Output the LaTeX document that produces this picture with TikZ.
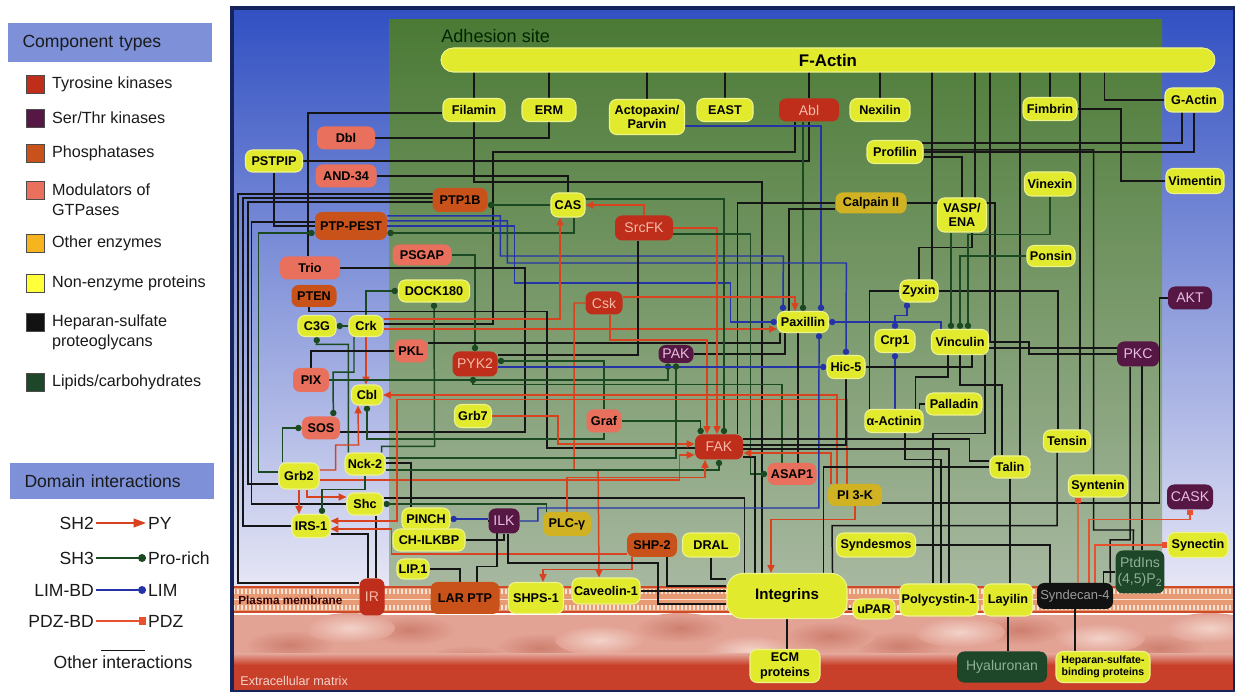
\documentclass[tikz,border=0pt]{standalone}
\usepackage{fontspec}
\setmainfont{Liberation Sans}
\usepackage{tikz}
\usetikzlibrary{arrows.meta, calc, positioning}

\definecolor{NonEnz}   {HTML}{E1EA2C}
\definecolor{NonEnzL}  {HTML}{FFFF3A}
\definecolor{TyrK}     {HTML}{BE2E1A}
\definecolor{TyrKtxt}  {HTML}{F6B9A8}
\definecolor{SerThr}   {HTML}{561744}
\definecolor{SerThrtxt}{HTML}{E6BEDF}
\definecolor{Phos}     {HTML}{C9521A}
\definecolor{GTPmod}   {HTML}{E8705C}
\definecolor{OthEnz}   {HTML}{D1B223}
\definecolor{OthEnzL}  {HTML}{F6B41E}
\definecolor{HSPG}     {HTML}{121212}
\definecolor{HSPGtxt}  {HTML}{9C9C9C}
\definecolor{Lipid}    {HTML}{1E4729}
\definecolor{Lipidtxt} {HTML}{8FAF95}
\definecolor{Wire}     {HTML}{151515}
\definecolor{SHtwo}    {HTML}{D8421E}
\definecolor{SHthree}  {HTML}{1B4A22}
\definecolor{LIMblue}  {HTML}{2434A6}
\definecolor{PDZred}   {HTML}{E8512E}
\definecolor{Navy}     {HTML}{17245C}
\definecolor{CellTop}  {HTML}{3150C2}
\definecolor{CellMid}  {HTML}{6A80D4}
\definecolor{CellLow}  {HTML}{E6E6F5}
\definecolor{AdhTop}   {HTML}{4B7A35}
\definecolor{AdhMid}   {HTML}{6F925C}
\definecolor{AdhLow}   {HTML}{A7B8A0}
\definecolor{Memb}     {HTML}{E89A74}
\definecolor{MembHead} {HTML}{F8E4D6}
\definecolor{MembEdge} {HTML}{CF4A26}
\definecolor{ECMbase}  {HTML}{E2A294}
\definecolor{ECMblob}  {HTML}{CD7F6E}
\definecolor{ECMlight} {HTML}{F3D2C9}
\definecolor{ECMred}   {HTML}{C8402A}
\definecolor{LegHead}  {HTML}{7D90D8}
\definecolor{LegText}  {HTML}{1A1A1A}

\pgfdeclarelayer{bgl}
\pgfdeclarelayer{wires}
\pgfsetlayers{bgl,wires,main}

\tikzset{
  prot/.style={rounded corners=4pt, inner sep=1pt, align=center, text=black,
               font=\bfseries\fontsize{7.2}{8.4}\selectfont},
  sz/.style 2 args={minimum width=#1*0.02cm, minimum height=#2*0.02cm},
  ne/.style={prot, fill=NonEnz, draw=NonEnz!55!white, line width=0.6pt},
  tk/.style={prot, fill=TyrK, text=TyrKtxt, font=\fontsize{8}{9}\selectfont},
  stk/.style={prot, fill=SerThr, text=SerThrtxt, font=\fontsize{8}{9}\selectfont},
  phos/.style={prot, fill=Phos},
  gtp/.style={prot, fill=GTPmod},
  oenz/.style={prot, fill=OthEnz},
  hspg/.style={prot, fill=HSPG, text=HSPGtxt, font=\fontsize{7.4}{8.4}\selectfont},
  lipid/.style={prot, fill=Lipid, text=Lipidtxt, font=\fontsize{8}{9.5}\selectfont},
  link/.style={draw=Wire, line width=0.85pt},
  sh2/.style={draw=SHtwo, line width=0.85pt, -{Triangle[length=4.5pt,width=4pt]}},
  sh3/.style={draw=SHthree, line width=0.85pt, -{Circle[length=3.6pt]}},
  lim/.style={draw=LIMblue, line width=0.85pt, -{Circle[length=3.6pt]}},
  pdz/.style={draw=PDZred, line width=0.65pt, -{Square[length=3.2pt]}},
  leghead/.style={fill=LegHead, minimum width=4.1cm, minimum height=0.78cm,
                  text width=3.5cm, align=left, inner xsep=0.3cm,
                  font=\fontsize{10}{12}\selectfont, text=LegText},
  legsq/.style={draw=black!70, line width=0.5pt, minimum size=0.36cm, inner sep=0pt},
  legtxt/.style={inner sep=1pt, align=left, text=LegText,
                 font=\fontsize{9.2}{11.5}\selectfont},
  domtxt/.style={inner sep=1pt, text=LegText, font=\fontsize{10}{12}\selectfont},
}

\begin{document}
\begin{tikzpicture}[x=0.02cm, y=-0.02cm]
  \useasboundingbox (0,0) rectangle (1235,692);

  % Legend: component types
  \node[leghead] (hdComp) at (110,43) {Component types};
  \node[legsq, fill=TyrK]    (sqTK) at (35,84)  {};
  \node[legtxt, anchor=west] (lbTK) at (50,84)  {Tyrosine kinases};
  \node[legsq, fill=SerThr]  (sqST) at (35,118) {};
  \node[legtxt, anchor=west] (lbST) at (50,118) {Ser/Thr kinases};
  \node[legsq, fill=Phos]    (sqPh) at (35,153) {};
  \node[legtxt, anchor=west] (lbPh) at (50,153) {Phosphatases};
  \node[legsq, fill=GTPmod]  (sqGT) at (35,190) {};
  \node[legtxt, anchor=west] (lbGT) at (50,200) {Modulators of\\GTPases};
  \node[legsq, fill=OthEnzL] (sqOE) at (35,243) {};
  \node[legtxt, anchor=west] (lbOE) at (50,243) {Other enzymes};
  \node[legsq, fill=NonEnzL] (sqNE) at (35,283) {};
  \node[legtxt, anchor=west] (lbNE) at (50,283) {Non-enzyme proteins};
  \node[legsq, fill=HSPG]    (sqHS) at (35,322) {};
  \node[legtxt, anchor=west] (lbHS) at (50,332) {Heparan-sulfate\\proteoglycans};
  \node[legsq, fill=Lipid]   (sqLi) at (35,382) {};
  \node[legtxt, anchor=west] (lbLi) at (50,382) {Lipids/carbohydrates};

  % Legend: domain interactions
  \node[leghead, minimum height=0.74cm] (hdDom) at (112,481) {Domain interactions};
  \node[domtxt, anchor=east] (lSH2)   at (96,523)  {SH2};
  \node[domtxt, anchor=west] (lPY)    at (146,523) {PY};
  \node[domtxt, anchor=east] (lSH3)   at (96,558)  {SH3};
  \node[domtxt, anchor=west] (lPro)   at (146,558) {Pro-rich};
  \node[domtxt, anchor=east] (lLIMBD) at (96,590)  {LIM-BD};
  \node[domtxt, anchor=west] (lLIM)   at (146,590) {LIM};
  \node[domtxt, anchor=east] (lPDZBD) at (96,621)  {PDZ-BD};
  \node[domtxt, anchor=west] (lPDZ)   at (146,621) {PDZ};
  \node[domtxt] (lOther) at (123,662) {Other interactions};
  \draw[sh2, -{Triangle[length=7pt,width=5pt]}] (lSH2) -- (lPY);
  \draw[sh3, -{Circle[length=4.5pt]}] (lSH3) -- (lPro);
  \draw[lim, -{Circle[length=4.5pt]}] (lLIMBD) -- (lLIM);
  \draw[pdz, -{Square[length=4pt]}] (lPDZBD) -- (lPDZ);
  \draw[link] ($(lOther.north)+(-22,-3)$) -- ($(lOther.north)+(22,-3)$);

  % Region labels
  \node[anchor=west, inner sep=0pt, text=black!85!green, font=\fontsize{10.3}{12}\selectfont]
    (lbAdh) at (441,36) {Adhesion site};
  \node[anchor=west, inner sep=0pt, text=black!80!red, font=\bfseries\fontsize{6.7}{8}\selectfont]
    (lbMem) at (238,600) {Plasma membrane};
  \node[anchor=west, inner sep=0pt, text=ECMlight, font=\fontsize{7.2}{8}\selectfont]
    (lbECM) at (240,681) {Extracellular matrix};

  % Proteins: actin and top row
  \node[ne, sz={774}{24}, rounded corners=7pt, font=\bfseries\fontsize{9.6}{11}\selectfont]
    (FActin) at (828,60) {F-Actin};
  \node[ne, sz={62}{23}] (Filamin)   at (474,110)  {Filamin};
  \node[ne, sz={54}{23}] (ERM)       at (549,110)  {ERM};
  \node[ne, sz={75}{35}] (Actopaxin) at (647,117)  {Actopaxin/\\Parvin};
  \node[ne, sz={56}{23}] (EAST)      at (725,110)  {EAST};
  \node[tk, sz={60}{23}] (Abl)       at (809,110)  {Abl};
  \node[ne, sz={60}{23}] (Nexilin)   at (880,110)  {Nexilin};
  \node[ne, sz={54}{23}] (Fimbrin)   at (1050,109) {Fimbrin};
  \node[ne, sz={58}{24}] (GActin)    at (1194,100) {G-Actin};
  \node[ne, sz={58}{25}] (Vimentin)  at (1195,181) {Vimentin};
  \node[ne, sz={56}{23}] (Profilin)  at (895,152)  {Profilin};
  \node[ne, sz={51}{24}] (Vinexin)   at (1050,184) {Vinexin};
  \node[ne, sz={49}{34}] (VASP)      at (962,215)  {VASP/\\ENA};
  \node[oenz, sz={71}{21}] (Calpain) at (871,203)  {Calpain II};
  \node[ne, sz={48}{21}] (Ponsin)    at (1051,256) {Ponsin};
  % Proteins: left block
  \node[gtp, sz={58}{23}]  (Dbl)     at (346,138) {Dbl};
  \node[ne, sz={57}{22}]   (PSTPIP)  at (274,161) {PSTPIP};
  \node[gtp, sz={61}{23}]  (AND34)   at (346,176) {AND-34};
  \node[phos, sz={55}{24}] (PTP1B)   at (460,200) {PTP1B};
  \node[ne, sz={34}{24}]   (CAS)     at (568,205) {CAS};
  \node[tk, sz={58}{25}]   (SrcFK)   at (644,228) {SrcFK};
  \node[phos, sz={72}{28}] (PTPPEST) at (351,226) {PTP-PEST};
  \node[gtp, sz={59}{21}]  (PSGAP)   at (422,255) {PSGAP};
  \node[gtp, sz={60}{23}]  (Trio)    at (310,268) {Trio};
  \node[ne, sz={71}{22}]   (DOCK)    at (434,291) {DOCK180};
  \node[phos, sz={45}{22}] (PTEN)    at (314,296) {PTEN};
  \node[ne, sz={38}{21}]   (C3G)     at (317,326) {C3G};
  \node[ne, sz={34}{21}]   (Crk)     at (366,326) {Crk};
  \node[tk, sz={37}{23}]   (Csk)     at (604,303) {Csk};
  \node[gtp, sz={33}{23}]  (PKL)     at (411,351) {PKL};
  \node[gtp, sz={36}{24}]  (PIX)     at (311,380) {PIX};
  \node[tk, sz={45}{25}]   (PYK2)    at (475,364) {PYK2};
  \node[stk, sz={35}{18}]  (PAK)     at (676,354) {PAK};
  \node[ne, sz={31}{20}]   (Cbl)     at (367,395) {Cbl};
  \node[gtp, sz={35}{23}]  (Graf)    at (604,421) {Graf};
  \node[ne, sz={37}{23}]   (Grb7)    at (473,416) {Grb7};
  \node[gtp, sz={38}{23}]  (SOS)     at (321,428) {SOS};
  \node[tk, sz={48}{25}]   (FAK)     at (719,447) {FAK};
  \node[ne, sz={40}{26}]   (Grb2)    at (299,476) {Grb2};
  \node[ne, sz={40}{22}]   (Nck2)    at (365,464) {Nck-2};
  \node[ne, sz={36}{22}]   (Shc)     at (365,504) {Shc};
  \node[ne, sz={38}{23}]   (IRS1)    at (311,526) {IRS-1};
  \node[ne, sz={48}{22}]   (PINCH)   at (426,519) {PINCH};
  \node[stk, sz={31}{25}]  (ILK)     at (504,521) {ILK};
  \node[oenz, sz={48}{24}] (PLCg)    at (567,524) {PLC-γ};
  \node[ne, sz={72}{22}]   (CHILKBP) at (429,540) {CH-ILKBP};
  \node[ne, sz={32}{20}]   (LIP1)    at (413,569) {LIP.1};
  \node[phos, sz={50}{24}] (SHP2)    at (652,545) {SHP-2};
  \node[ne, sz={57}{24}]   (DRAL)    at (711,545) {DRAL};
  % Proteins: right block
  \node[ne, sz={38}{22}]   (Zyxin)    at (919,291)  {Zyxin};
  \node[ne, sz={51}{21}]   (Paxillin) at (803,322)  {Paxillin};
  \node[stk, sz={44}{23}]  (AKT)      at (1190,298) {AKT};
  \node[ne, sz={40}{23}]   (Crp1)     at (895,341)  {Crp1};
  \node[ne, sz={57}{25}]   (Vinculin) at (960,342)  {Vinculin};
  \node[ne, sz={38}{23}]   (HicV)     at (846,367)  {Hic-5};
  \node[stk, sz={42}{25}]  (PKC)      at (1138,354) {PKC};
  \node[ne, sz={56}{22}]   (Palladin) at (954,404)  {Palladin};
  \node[ne, sz={58}{23}]   (Actinin)  at (894,421)  {α-Actinin};
  \node[ne, sz={47}{22}]   (Tensin)   at (1067,441) {Tensin};
  \node[ne, sz={40}{22}]   (Talin)    at (1010,467) {Talin};
  \node[gtp, sz={49}{22}]  (ASAP1)    at (792,474)  {ASAP1};
  \node[ne, sz={59}{22}]   (Syntenin) at (1098,486) {Syntenin};
  \node[stk, sz={46}{25}]  (CASK)     at (1190,497) {CASK};
  \node[oenz, sz={54}{22}] (PI3K)     at (855,495)  {PI 3-K};
  \node[ne, sz={79}{24}]   (Syndesmos) at (876,545) {Syndesmos};
  \node[ne, sz={60}{25}]   (Synectin) at (1198,545) {Synectin};
  % Membrane and matrix
  \node[tk, sz={25}{37}]   (IR)       at (372,597) {IR};
  \node[phos, sz={69}{32}] (LARPTP)   at (465,598) {LAR PTP};
  \node[ne, sz={55}{31}]   (SHPS1)    at (536,598) {SHPS-1};
  \node[ne, sz={68}{26}]   (Caveolin) at (606,591) {Caveolin-1};
  \node[ne, sz={120}{45}, rounded corners=9pt, font=\bfseries\fontsize{8.6}{10}\selectfont]
    (Integrins) at (787,596) {Integrins};
  \node[ne, sz={42}{20}]   (uPAR)       at (874,609)  {uPAR};
  \node[ne, sz={78}{32}]   (Polycystin) at (939,600)  {Polycystin-1};
  \node[ne, sz={49}{32}]   (Layilin)    at (1008,600) {Layilin};
  \node[hspg, sz={76}{26}] (Syndecan)   at (1075,596) {Syndecan-4};
  \node[lipid, sz={45}{43}] (PtdIns)    at (1140,572) {PtdIns\\(4,5)P\textsubscript{2}};
  \node[ne, sz={70}{33}]   (ECM)        at (785,666)  {ECM\\proteins};
  \node[lipid, sz={90}{31}, font=\fontsize{8}{9}\selectfont] (Hyaluronan) at (1002,667) {Hyaluronan};
  \node[ne, sz={94}{31}, font=\bfseries\fontsize{6}{7}\selectfont]
    (HSBP) at (1103,667) {Heparan-sulfate-\\binding proteins};

  \begin{pgfonlayer}{wires}
    % actin links
    \foreach \n in {Filamin,ERM,Actopaxin,EAST,Abl,Nexilin,Fimbrin}
      \draw[link] (\n) -- (\n |- FActin);
    \draw[link] ($(VASP)+(13,0)$) |- (FActin);
    \draw[link] ($(Zyxin.north)+(13,0)$) |- (FActin);
    \draw[link] (Vinculin) -- ++(30,0) |- (FActin);
    \draw[link] (Talin) -- ++(10,0) |- (FActin);
    \draw[link] (Tensin) -- ++(13,0) |- (FActin);
    \draw[link] (GActin.west) -- ++(-60,0) |- (FActin);
    \draw[link] ($(Profilin)+(0,-9)$) -| ($(GActin)+(-12,0)$);
    \draw[link] (Profilin) -| (GActin);
    \draw[link] (Fimbrin) -- ++(71,0) |- (Vimentin);
    \draw[link] ($(Profilin.east)+(0,5)$) -| (VASP);
    \draw[link] ($(Profilin.east)+(0,-2)$) -- ++(170,0) |- ++(40,380) -- ($(PtdIns.north)+(-7,0)$);
    % top left
    \draw[link] ($(Filamin.west)+(0,3)$) -| ($(Trio.north)+(-2,0)$);
    \draw[link] (Filamin.south) -- ++(0,60) -| ($(Integrins.north)+(-25,0)$);
    \draw[link] (ERM) |- (Dbl);
    \draw[link] (PSTPIP) -| (Abl);
    \draw[link] (PSTPIP) |- (PTPPEST);
    \draw[link] (AND34) -| (CAS);
    \draw[link] ($(Abl.south)+(-14,0)$) |- ++(-302,30) |- ($(Crk.east)+(0,-2)$);
    \draw[sh3] ($(Abl.south)+(-6,0)$) -- (Paxillin.north);
    \draw[lim] ($(Actopaxin.east)+(0,9)$) -| ($(Paxillin.north east)+(-8,0)$);
    % Calpain
    \draw[link] (Calpain) -| ($(Talin.north)+(-15,0)$);
    \draw[link] (Calpain.west) -| ($(FAK.north east)+(-6,0)$);
    \draw[link] ($(Calpain.west)+(0,6)$) -| ($(Paxillin.north)+(-14,0)$);
    % PTP1B and the left bundle
    \draw[sh3] (CAS.west) -- (CAS.west -| PTP1B.east);
    \draw[link] ($(PTP1B)+(0,-6)$) -- ++(-222,0) |- ($(IR.west)+(0,-14)$);
    \draw[link] ($(PTP1B)+(0,-2)$) -- ++(-217,0) |- (IRS1);
    \draw[link] ($(PTP1B)+(0,2)$) -- ++(-212,0) |- ($(Grb2.west)+(0,8)$);
    \draw[link] ($(PTPPEST.west)+(0,-4)$) -- ++(-63,0) |- (Shc);
    \draw[sh3] ($(Grb2.west)+(0,-4)$) -- ++(-20,0) |- ($(PTPPEST.west)+(0,7)$);
    \draw[sh3] ($(CAS.south)+(6,0)$) |- ($(PTPPEST.east)+(0,7)$);
    \draw[lim] ($(PTPPEST.east)+(0,-10)$) -- ++(113,0) |- ++(283,40) -- ($(Paxillin.north west)+(6,0)$);
    \draw[lim] ($(PTPPEST.east)+(0,-5)$) -- ++(120,0) |- ++(339,42) -- (HicV.north);
    \draw[lim] (PTPPEST.east) -- ++(127,0) -- ++(0,57) -- ++(216,0) |- (Paxillin.west);
    % GTPase modulators, Crk and friends
    \draw[sh3] (PSGAP.east) -| (PYK2.north);
    \draw[link] (Trio) -- ++(215,0) |- ($(SOS.east)+(0,4)$);
    \draw[sh3] (Crk.north) |- (DOCK.west);
    \draw[sh3] ($(Nck2.north east)+(-4,0)$) |- ++(53,-6) -- (DOCK.south);
    \draw[sh3] (Crk.west) -- (C3G.east);
    \draw[sh3] ($(Nck2.north west)+(4,0)$) |- ++(-32,-108) -- (C3G.south);
    \draw[sh2] ($(Crk.east)+(0,-7)$) -| ($(CAS.south)+(-8,0)$);
    \draw[sh2] ($(Crk.east)+(0,3)$) -- ($(Paxillin.west)+(0,7)$);
    \draw[sh2] (Crk.south) -- (Crk.south |- Cbl.north);
    \draw[sh3] ($(Crk.south)+(-12,0)$) |- ++(-21,35) -- ($(SOS.north east)+(-7,0)$);
    \draw[link] ($(PTEN.south)+(-5,0)$) |- ++(238,4) |- ($(FAK.west)+(0,1)$);
    \draw[link] (PKL.west) -| (PIX.north);
    \draw[link] ($(PKL.east)+(0,-8)$) -| ($(Paxillin.south west)+(3,0)$);
    \draw[sh3] (PIX.east) -| ($(PAK.south)+(-8,0)$);
    \draw[link] (PAK) -| ($(Paxillin.south west)+(8,0)$);
    % Src, Csk and the FAK hub
    \draw[sh2] (SrcFK.north) |- (CAS.east);
    \draw[sh3] ($(CAS.east)+(0,-6)$) -| ($(FAK.north)+(5,0)$);
    \draw[sh2] (SrcFK.east) -| ($(FAK.north)+(-2,0)$);
    \draw[sh3] ($(SrcFK.east)+(0,6)$) -- ++(77,0) |- (ASAP1.west);
    \draw[link] ($(SrcFK.south)+(-6,0)$) |- ($(PYK2.east)+(0,-9)$);
    \draw[sh2] ($(Csk.east)+(0,-6)$) -| ($(Paxillin.north)+(-8,0)$);
    \draw[sh2] ($(Csk.south)+(6,0)$) |- ++(97,25) -- ($(FAK.north)+(-12,0)$);
    \draw[sh2] (Csk.west) -- ++(-11,0) |- ++(24,167) -- ($(Caveolin.north)+(-7,0)$);
    \draw[sh3] (Graf.north) |- ($(PYK2.east)+(0,-3)$);
    \draw[lim] (PYK2.east |- HicV.west) -- (HicV.west);
    \draw[sh3] ($(ASAP1.north)+(-10,0)$) |- ++(-309,-78) -- ($(PYK2.south)+(-2,0)$);
    \draw[link] ($(ASAP1.north)+(6,0)$) -- ($(Paxillin.south)+(-5,0)$);
    \draw[sh3] (Graf.east) -| ($(FAK.north west)+(6,0)$);
    \draw[sh3] (Graf.south) |- ++(-237,6) -- (Cbl.south);
    \draw[sh2] (Grb7.east) -- ++(66,0) |- ($(FAK.west)+(0,-3)$);
    \draw[link] ($(FAK.east)+(0,10)$) -| ($(Integrins.north)+(-32,0)$);
    % Grb2, Nck-2, Shc, IRS-1
    \draw[sh2] (Grb2.south) -- (Grb2.south |- IRS1.north);
    \draw[sh2] ($(Grb2.south)+(8,0)$) |- ($(Shc.west)+(0,-7)$);
    \draw[sh2] ($(Grb2.east)+(0,-6)$) -- ++(16,0) |- ++(23,-25) -- ($(Cbl.south)+(-9,0)$);
    \draw[sh2] ($(Grb2.east)+(0,4)$) -- ++(360,0) |- ($(FAK.west)+(0,8)$);
    \draw[sh3] ($(Grb2.north west)+(4,0)$) |- (SOS.west);
    \draw[sh3] ($(Nck2.east)+(0,-6)$) -| (PAK.south);
    \draw[link] ($(Nck2.east)+(0,-1)$) -| ($(PINCH.north)+(-15,0)$);
    \draw[sh3] ($(Nck2.east)+(0,6)$) -| (FAK.south);
    \draw[sh3] (Nck2.south) |- ++(-43,14) -- ($(IRS1.north)+(11,0)$);
    \draw[sh3] ($(PLCg.north west)+(4,0)$) |- (Shc.east);
    \draw[link] ($(Shc.east)+(0,-6)$) -| ($(Integrins.north west)+(18,0)$);
    \draw[sh2] (PLCg.north) |- ++(138,-34) -- ($(FAK.south)+(-14,0)$);
    \draw[link] ($(IR.north)+(-4,0)$) |- ($(IRS1.east)+(0,8)$);
    \draw[link] ($(IR.north)+(4,0)$) -- ($(Shc.south)+(11,0)$);
    % PI 3-K and SHP-2
    \draw[sh2] ($(PI3K.north)+(-18,0)$) |- (Cbl.east);
    \draw[sh2] ($(PI3K.north)+(-8,0)$) |- ++(-450,-84) |- ($(IRS1.east)+(0,-5)$);
    \draw[sh2] ($(PI3K.north)+(-24,0)$) |- ($(FAK.east)+(0,6)$);
    \draw[sh2] (PI3K.south) |- ++(-84,13) -- ($(Integrins.north)+(-16,0)$);
    \draw[sh2] ($(SHP2.west)+(0,9)$) -| ++(-235,-25) -- ($(IRS1.east)+(0,3)$);
    \draw[sh2] ($(SHP2.south)+(-20,0)$) |- ++(-89,12) -- ($(SHPS1.north)+(7,0)$);
    \draw[link] ($(SHP2.south)+(15,0)$) |- ($(Integrins.west)+(0,-10)$);
    \draw[link] (DRAL.south) |- ($(Integrins.west)+(0,-17)$);
    \draw[link] (Caveolin.east) -- (Caveolin.east -| Integrins.west);
    % ILK complex
    \draw[lim] (ILK.west |- PINCH.east) -- (PINCH.east);
    \draw[lim] (ILK.east) -- ++(18,0) |- ++(281,-13) -- ($(Paxillin.south east)+(-10,0)$);
    \draw[link] (CHILKBP.east) -| (ILK.south);
    \draw[link] ($(ILK.south)+(4,0)$) |- ++(150,29) |- ($(Integrins.west)+(0,8)$);
    \draw[link] (LIP1.east) -| ($(LARPTP.north)+(-5,0)$);
    \draw[link] ($(LARPTP.north)+(12,0)$) |- ++(20,-15) |- (ILK);
    % focal adhesion core, right side
    \draw[link] (Zyxin.north) -- ++(0,-32) -| ($(VASP.south)+(10,0)$);
    \draw[link] (Zyxin.east) -| ($(Tensin.north)+(-9,0)$);
    \draw[link] (Zyxin.west) -| ($(Actinin.north west)+(5,0)$);
    \draw[lim, {Circle[length=3.6pt]}-{Circle[length=3.6pt]}]
      ($(Zyxin.south)+(-12,0)$) |- ++(-12,13) -- (Crp1.north);
    \draw[lim, {Circle[length=3.6pt]}-] (Paxillin.east) -| ($(Vinculin.north west)+(10,0)$);
    \draw[lim, {Circle[length=3.6pt]}-] (Crp1.south) -- (Crp1.south |- Actinin.north);
    \draw[sh3] (Vinexin.south) |- ++(-82,38) -- ($(Vinculin.north)+(8,0)$);
    \draw[sh3] (Ponsin.west) -| (Vinculin.north);
    \draw[sh3] ($(VASP.south)+(-11,0)$) -- ($(Vinculin.north)+(-9,0)$);
    \draw[link] (Vinculin.east) -- ++(40,0) |- (PKC.west);
    \draw[link] (Vinculin.south) -- ++(0,30) -| ($(Talin.north)+(-8,0)$);
    \draw[link] ($(Vinculin.south west)+(17,0)$) -- ++(0,22) -| ($(Actinin.north east)+(-8,0)$);
    \draw[link] ($(Vinculin.east)+(0,6)$) -| ($(PtdIns.north)+(2,0)$);
    \draw[link] (HicV.south) |- ($(FAK.east)+(0,-2)$);
    \draw[link] (HicV.east) -| ($(Vinculin.south)+(12,0)$);
    \draw[link] ($(Actinin.north east)+(-4,0)$) |- (Palladin.west);
    \draw[link] (Talin.west) -| ($(Integrins.north east)+(-24,0)$);
    \draw[link] ($(Talin.west)+(0,-6)$) -- ++(-20,0) |- ($(FAK.east)+(0,-8)$);
    \draw[link] (Talin.south) -- (Talin.south |- Layilin.north);
    \draw[link] ($(Tensin.south)+(-10,0)$) |- ++(-225,73) -- ($(Integrins.north east)+(-15,0)$);
    \draw[link] ($(Polycystin.north)+(-6,0)$) |- ++(52,-150) -- ($(Vinculin.south)+(25,0)$);
    \draw[link] ($(Polycystin.north)+(2,0)$) |- ++(-36,-124) -- ($(Actinin.south)+(11,0)$);
    \draw[link] ($(Polycystin.north)+(10,0)$) |- ($(FAK.east)+(0,2)$);
    \draw[link] (Syndesmos.east) -| ($(Syndecan.north)+(-25,0)$);
    \draw[link] ($(PKC.south)+(-8,0)$) |- ++(-20,173) -- ($(Syndecan.north east)+(-3,0)$);
    \draw[link] (AKT.west) -- ++(-8,0) |- ($(PI3K.east)+(0,8)$);
    \draw[link] (PtdIns.west) -| ($(Syndecan.north east)+(-10,0)$);
    \draw[pdz] ($(Syndecan.north)+(3,0)$) -- ($(Syntenin.south west)+(10,0)$);
    \draw[pdz] ($(Syndecan.north)+(14,0)$) |- ++(101,-63) -- (CASK.south);
    \draw[pdz] ($(Syndecan.north)+(20,0)$) |- (Synectin.west);
    % membrane and matrix
    \draw[link] (uPAR.west) -- (uPAR.west -| Integrins.east);
    \draw[link] (Integrins.south) -- (Integrins.south |- ECM.north);
    \draw[link] (Layilin.south) -- (Layilin.south |- Hyaluronan.north);
    \draw[link] (Syndecan.south) -- (Syndecan.south |- HSBP.north);
  \end{pgfonlayer}

  \begin{pgfonlayer}{bgl}
    \fill[white] (0,0) rectangle (1235,692);
    % cell interior and adhesion site
    \shade[top color=CellTop, middle color=CellMid, bottom color=CellLow]
      (232,8) rectangle (1235,587);
    \shade[top color=AdhTop, middle color=AdhMid, bottom color=AdhLow]
      (389,20) rectangle (1162,587);
    % extracellular matrix
    \fill[ECMbase] (232,615) rectangle (1235,692);
    \foreach \bx/\by in {290/645, 410/630, 540/648, 680/628, 900/646,
                         1020/630, 1160/648, 470/660, 830/636}
      \shade[inner color=ECMblob, outer color=ECMbase] (\bx,\by) ellipse (0.9cm and 0.3cm);
    \foreach \bx/\by in {350/628, 600/640, 750/650, 960/632, 1100/638, 1210/628}
      \shade[inner color=ECMlight, outer color=ECMbase] (\bx,\by) ellipse (0.9cm and 0.3cm);
    \shade[top color=ECMbase, bottom color=ECMred] (232,654) rectangle (1235,665);
    \fill[ECMred] (232,665) rectangle (1235,692);
    % plasma membrane
    \fill[Memb] (232,587) rectangle (1235,612);
    \foreach \i in {234,238,...,1234} {
      \draw[MembHead, line width=1.1pt] (\i,589) -- (\i,594);
      \draw[MembHead, line width=1.1pt] (\i,605) -- (\i,610);
    }
    \draw[MembHead, line width=0.8pt] (232,599.5) -- (1235,599.5);
    \draw[MembEdge, line width=0.8pt] (232,587) -- (1235,587);
    \draw[MembEdge, line width=0.8pt] (232,612) -- (1235,612);
    \draw[Navy, line width=2.2pt] (232,8) rectangle (1235,692);
  \end{pgfonlayer}
\end{tikzpicture}
\end{document}
